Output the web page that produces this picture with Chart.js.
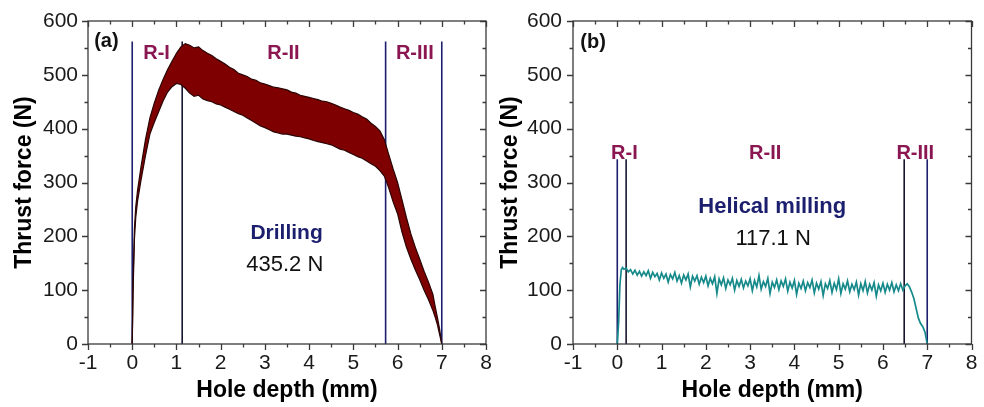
<!DOCTYPE html>
<html>
<head>
<meta charset="utf-8">
<script src="https://cdn.jsdelivr.net/npm/chart.js@4.4.1/dist/chart.umd.min.js"></script>
<style>
  html, body { margin: 0; padding: 0; background: #fff; }
  .panel { position: absolute; top: 0; height: 407px; }
  #left { left: 0; width: 500px; }
  #right { left: 490px; width: 494px; }
</style>
</head>
<body>
<div class="panel" id="left"><canvas id="chartA"></canvas></div>
<div class="panel" id="right"><canvas id="chartB"></canvas></div>
<script>
// axis ticks
const xTicks = [-1, 0, 1, 2, 3, 4, 5, 6, 7, 8]
const yTicks = [0, 100, 200, 300, 400, 500, 600]

// (a) drilling: upper / lower envelope of the oscillating thrust force
const drillDepth = [0, 0.02, 0.05, 0.08, 0.12, 0.2, 0.3, 0.4, 0.5, 0.6, 0.7, 0.8, 0.9, 1.0, 1.1, 1.2, 1.3, 1.4, 1.5, 1.6, 1.7, 1.8, 1.9,
  2.0, 2.1, 2.2, 2.3, 2.4, 2.5, 2.6, 2.7, 2.8, 2.9, 3.0, 3.1, 3.2, 3.3, 3.4, 3.5, 3.6, 3.7, 3.8, 3.9, 4.0, 4.1, 4.2, 4.3, 4.4, 4.5,
  4.6, 4.7, 4.8, 4.9, 5.0, 5.1, 5.2, 5.3, 5.4, 5.5, 5.6, 5.7, 5.8, 5.9, 6.0, 6.1, 6.2, 6.3, 6.4, 6.5, 6.6, 6.7, 6.8, 6.85, 6.9, 6.95, 7.0]
const drillUpper = [0, 120, 215, 255, 285, 330, 380, 420, 448, 472, 492, 510, 525, 540, 552, 558, 555, 550, 552, 545, 540, 536, 530,
  525, 520, 514, 510, 503, 500, 497, 492, 490, 485, 483, 480, 477, 476, 474, 472, 468, 466, 462, 460, 458, 456, 454, 451, 450, 447,
  444, 440, 437, 434, 430, 427, 422, 418, 410, 404, 396, 380, 352, 325, 300, 268, 235, 205, 180, 158, 135, 115, 92, 70, 50, 28, 0]
const drillLower = [0, 100, 195, 235, 265, 305, 350, 390, 412, 432, 452, 468, 478, 484, 482, 475, 466, 460, 462, 455, 452, 450, 446,
  444, 440, 436, 432, 428, 425, 420, 415, 410, 405, 402, 398, 394, 392, 390, 390, 388, 386, 385, 383, 381, 378, 376, 374, 372, 370,
  366, 362, 360, 356, 352, 348, 345, 340, 335, 330, 322, 312, 290, 264, 242, 208, 180, 158, 138, 120, 100, 82, 62, 50, 36, 18, 0]
const drillBounds = [0, 1.13, 5.73, 7.0]

// (b) helical milling
const millDepth = [0, 0.03, 0.06, 0.09, 0.12, 0.15, 0.2, 0.25, 0.3, 0.35, 0.4, 0.45, 0.5, 0.55, 0.6, 0.65, 0.7, 0.75, 0.8, 0.85, 0.9, 0.95,
  1.0, 1.05, 1.1, 1.15, 1.2, 1.25, 1.3, 1.35, 1.4, 1.45, 1.5, 1.55, 1.6, 1.65, 1.7, 1.75, 1.8, 1.85, 1.9, 1.95,
  2.0, 2.05, 2.1, 2.15, 2.2, 2.25, 2.3, 2.35, 2.4, 2.45, 2.5, 2.55, 2.6, 2.65, 2.7, 2.75, 2.8, 2.85, 2.9, 2.95,
  3.0, 3.05, 3.1, 3.15, 3.2, 3.25, 3.3, 3.35, 3.4, 3.45, 3.5, 3.55, 3.6, 3.65, 3.7, 3.75, 3.8, 3.85, 3.9, 3.95,
  4.0, 4.05, 4.1, 4.15, 4.2, 4.25, 4.3, 4.35, 4.4, 4.45, 4.5, 4.55, 4.6, 4.65, 4.7, 4.75, 4.8, 4.85, 4.9, 4.95,
  5.0, 5.05, 5.1, 5.15, 5.2, 5.25, 5.3, 5.35, 5.4, 5.45, 5.5, 5.55, 5.6, 5.65, 5.7, 5.75, 5.8, 5.85, 5.9, 5.95,
  6.0, 6.05, 6.1, 6.15, 6.2, 6.25, 6.3, 6.35, 6.4, 6.45, 6.5, 6.55, 6.6, 6.65, 6.7, 6.75, 6.8, 6.85, 6.9, 6.95, 7.0]
const millForce = [0, 40, 110, 138, 142, 139, 141, 134, 138, 130, 137, 128, 135, 126, 134, 127, 136, 122, 133, 125, 131, 119,
  132, 122, 130, 115, 129, 121, 133, 117, 127, 113, 128, 119, 130, 106, 126, 117, 127, 111, 124, 114,
  126, 108, 122, 112, 125, 94, 121, 110, 123, 103, 119, 110, 122, 100, 118, 107, 120, 104, 117, 108,
  121, 99, 118, 106, 127, 102, 116, 107, 122, 94, 115, 105, 119, 101, 117, 107, 121, 98, 115, 104,
  118, 92, 113, 103, 117, 99, 114, 105, 119, 95, 113, 102, 116, 90, 112, 103, 118, 96, 113, 101,
  121, 94, 112, 102, 117, 97, 111, 101, 115, 91, 112, 99, 116, 95, 111, 100, 114, 89, 110, 99,
  113, 96, 111, 100, 114, 97, 110, 99, 112, 100, 108, 112, 106, 96, 84, 66, 48, 38, 32, 22, 0]
const millBounds = [0, 0.2, 6.48, 7.0]

const FONT = "'Liberation Sans', Arial, sans-serif"
const REGION = '#8a1652'
const NAVY = '#1c1f6e'

const pts = (xs, ys) => xs.map((x, i) => ({ x, y: ys[i] }))

const boundLines = (bounds, top, colors) => bounds.map((b, i) => ({
  data: [{ x: b, y: 0 }, { x: b, y: top }],
  borderColor: colors[i],
  borderWidth: 1.6,
  pointRadius: 0,
  fill: false,
}))

const framePlugin = {
  id: 'frame',
  afterDraw(chart) {
    const { ctx, chartArea: a, scales: { x, y } } = chart
    ctx.save()
    ctx.strokeStyle = '#3a3a3a'
    ctx.lineWidth = 1.3
    ctx.strokeRect(a.left, a.top, a.right - a.left, a.bottom - a.top)
    ctx.beginPath()
    for (let v = x.min; v <= x.max + 1e-9; v += 0.5) {
      const px = Math.round(x.getPixelForValue(v)) + 0.5
      const len = Number.isInteger(v) ? 6 : 3.5
      ctx.moveTo(px, a.bottom); ctx.lineTo(px, a.bottom + len)
      ctx.moveTo(px, a.top); ctx.lineTo(px, a.top + len)
    }
    for (let v = y.min; v <= y.max + 1e-9; v += 50) {
      const py = Math.round(y.getPixelForValue(v)) + 0.5
      const len = v % 100 === 0 ? 6 : 3.5
      ctx.moveTo(a.left, py); ctx.lineTo(a.left - len, py)
      ctx.moveTo(a.right, py); ctx.lineTo(a.right - len, py)
    }
    ctx.stroke()
    ctx.restore()
  },
}

const notesPlugin = (notes) => ({
  id: 'notes',
  afterDatasetsDraw(chart) {
    const { ctx, scales: { x, y } } = chart
    ctx.save()
    ctx.textBaseline = 'middle'
    notes.forEach((n) => {
      ctx.font = `${n.bold ? 'bold ' : ''}${n.size}px ${FONT}`
      ctx.fillStyle = n.color
      ctx.textAlign = n.align || 'center'
      ctx.fillText(n.text, x.getPixelForValue(n.x), y.getPixelForValue(n.y))
    })
    ctx.restore()
  },
})

const makeOptions = (yWidth, rightPad, titlePad, tickPad) => ({
  responsive: true,
  maintainAspectRatio: false,
  animation: false,
  layout: { padding: { top: 21, right: rightPad, left: 0, bottom: 0 } },
  plugins: { legend: { display: false }, tooltip: { enabled: false } },
  scales: {
    x: {
      type: 'linear',
      min: -1,
      max: 8,
      afterBuildTicks: (s) => { s.ticks = xTicks.map((v) => ({ value: v })) },
      afterFit: (s) => { s.height = 63; s.paddingLeft = 0; s.paddingRight = 0 },
      grid: { display: false, drawTicks: false },
      border: { display: false },
      ticks: { color: '#1a1a1a', font: { family: FONT, size: 21 }, padding: 7, maxRotation: 0 },
      title: { display: true, text: 'Hole depth (mm)', color: '#000', font: { family: FONT, size: 23, weight: 'bold' }, padding: { top: 0, bottom: 3 } },
    },
    y: {
      min: 0,
      max: 600,
      afterBuildTicks: (s) => { s.ticks = yTicks.map((v) => ({ value: v })) },
      afterFit: (s) => { s.width = yWidth; s.paddingTop = 0; s.paddingBottom = 0 },
      grid: { display: false, drawTicks: false },
      border: { display: false },
      ticks: { color: '#1a1a1a', font: { family: FONT, size: 21 }, padding: tickPad },
      title: { display: true, text: 'Thrust force (N)', color: '#000', font: { family: FONT, size: 23, weight: 'bold' }, padding: { top: titlePad, bottom: 0 } },
    },
  },
})

new Chart(document.getElementById('chartA'), {
  type: 'line',
  data: {
    datasets: [
      { data: pts(drillDepth, drillUpper), borderColor: '#2b0505', borderWidth: 1.2, pointRadius: 0, fill: false },
      { data: pts(drillDepth, drillLower), borderColor: '#2b0505', borderWidth: 1.2, pointRadius: 0, fill: '-1', backgroundColor: '#7e0000' },
      ...boundLines(drillBounds, 562, [NAVY, '#15152e', NAVY, NAVY]),
    ],
  },
  options: makeOptions(88, 14, 11, 10),
  plugins: [framePlugin, notesPlugin([
    { text: '(a)', x: -0.86, y: 562, size: 20, bold: true, color: '#111', align: 'left' },
    { text: 'R-I', x: 0.55, y: 540, size: 20, bold: true, color: REGION },
    { text: 'R-II', x: 3.42, y: 540, size: 20, bold: true, color: REGION },
    { text: 'R-III', x: 6.39, y: 540, size: 20, bold: true, color: REGION },
    { text: 'Drilling', x: 3.49, y: 206, size: 21, bold: true, color: NAVY },
    { text: '435.2 N', x: 3.45, y: 147, size: 22, bold: false, color: '#111' },
  ])],
})

new Chart(document.getElementById('chartB'), {
  type: 'line',
  data: {
    datasets: [
      { data: pts(millDepth, millForce), borderColor: '#168a8a', borderWidth: 1.7, pointRadius: 0, fill: false },
      ...boundLines(millBounds, 343, [NAVY, '#15152e', '#15152e', NAVY]),
    ],
  },
  options: makeOptions(83, 12.5, 7, 11),
  plugins: [framePlugin, notesPlugin([
    { text: '(b)', x: -0.835, y: 560, size: 20, bold: true, color: '#111', align: 'left' },
    { text: 'R-I', x: 0.16, y: 354, size: 20, bold: true, color: REGION },
    { text: 'R-II', x: 3.34, y: 354, size: 20, bold: true, color: REGION },
    { text: 'R-III', x: 6.73, y: 354, size: 20, bold: true, color: REGION },
    { text: 'Helical milling', x: 3.5, y: 254, size: 22, bold: true, color: NAVY },
    { text: '117.1 N', x: 3.52, y: 196, size: 22, bold: false, color: '#111' },
  ])],
})
</script>
</body>
</html>
